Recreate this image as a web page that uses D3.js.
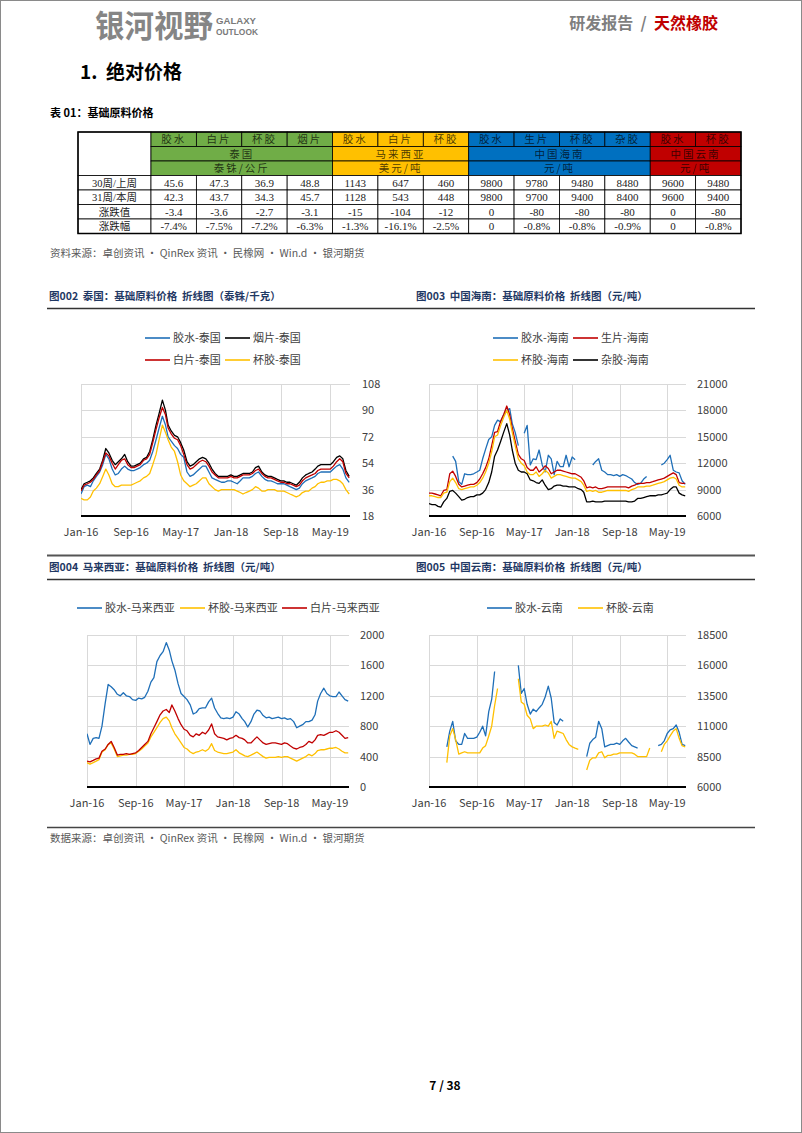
<!DOCTYPE html>
<html><head><meta charset="utf-8">
<script src="https://cdn.jsdelivr.net/npm/d3@7"></script>
<style>body{margin:0;background:#fff}svg{display:block}</style>
</head><body>
<script>
// ---------- DATA ----------
// Table
const tblHeads = ["胶水","白片","杯胶","烟片","胶水","白片","杯胶","胶水","生片","杯胶","杂胶","胶水","杯胶"];
const tblGroups = [{name:"泰国",unit:"泰铢/公斤",span:4,color:"#70AD47"},{name:"马来西亚",unit:"美元/吨",span:3,color:"#FFC000"},{name:"中国海南",unit:"元/吨",span:4,color:"#0070C0"},{name:"中国云南",unit:"元/吨",span:2,color:"#C00000"}];
const tblRowNames = ["30周/上周","31周/本周","涨跌值","涨跌幅"];
const rowLastWeek = ["45.6","47.3","36.9","48.8","1143","647","460","9800","9780","9480","8480","9600","9480"];
const rowThisWeek = ["42.3","43.7","34.3","45.7","1128","543","448","9800","9700","9400","8400","9600","9400"];
const rowChange   = ["-3.4","-3.6","-2.7","-3.1","-15","-104","-12","0","-80","-80","-80","0","-80"];
const rowChangePct= ["-7.4%","-7.5%","-7.2%","-6.3%","-1.3%","-16.1%","-2.5%","0","-0.8%","-0.8%","-0.9%","0","-0.8%"];

// Time axis (half-monthly observations from Jan-16)
const tickLabels = ["2016-01-01","2016-09-01","2017-05-01","2018-01-01","2018-09-01","2019-05-01"];

// Chart 002 Thailand (THB/kg)
const thBlue = [33,38,39,38,42,45,48,53,60,57, 50,46,47,50,52,50,49,49,50,51, 53,54,56,62,70,78,86,80,72,69, 66,64,60,58,48,45,46,48,50,52, 52,48,44,43,42,41,41,42,42,41, 40,42,44,44,44,45,47,48,45,43, 42,42,41,40,40,40,39,38,37,36, 37,40,42,43,44,45,47,48,48,48, 48,50,52,53,50,44,41];
const thBlack = [36,40,41,42,44,47,50,56,64,61, 56,53,55,57,60,55,52,52,53,54, 57,58,62,70,80,88,97,90,80,76, 73,72,68,63,55,52,53,55,57,58, 57,54,50,47,45,45,45,45,46,45, 45,46,47,47,47,48,51,52,48,46, 45,45,44,43,42,42,41,41,40,39, 41,44,46,47,48,50,52,53,53,53, 53,55,58,59,57,49,45];
const thRed = [35,39,40,41,43,46,49,55,61,59, 54,50,53,56,57,53,51,51,52,53, 56,57,60,68,77,85,92,87,78,74, 71,70,66,60,53,50,51,53,55,56, 55,52,48,46,44,44,44,44,45,44, 44,45,46,46,46,47,49,50,47,45, 44,44,43,42,41,41,40,40,39,38, 39,42,44,45,46,47,49,50,50,50, 50,52,55,57,55,47,44];
const thYellow = [30,29,29,31,35,37,40,45,50,46, 40,38,38,39,39,39,39,40,41,42, 44,45,47,53,60,70,80,75,70,65, 62,55,46,42,40,38,39,40,42,44, 44,40,38,36,35,36,36,36,36,36, 35,34,33,34,35,36,38,37,35,35, 36,36,36,35,35,35,34,33,32,31, 32,34,35,35,37,38,40,41,41,42, 42,43,43,42,40,36,33];

// Chart 003 Hainan (CNY/t)
const hnBlue = [null,null,null,null,null,null,null,null,12800,12200, 9900,9600,10800,10700,10700,10800,11000,11200,12500,13600, 14700,15000,16300,16900,16700,17500,18000,18200,16500,15500, 14000,null,15400,16300,11800,12500,12400,13500,11800,11000, 12900,12500,10700,12200,11600,11600,12900,11600,12700,12400, null,null,null,null,null,11800,12200,12500,11200,11000, 10700,10700,10600,10700,10500,10700,10600,10400,10200,9800, 9600,9700,10200,10500,null,null,null,null,11800,12000, 12400,12900,11200,11000,10900,10000,9600];
const hnRed = [8600,8600,8500,8400,8300,8900,9000,10800,11100,10500, 9600,9300,9400,9500,9600,9600,9800,10200,10800,11500, 12500,14000,15500,15600,16800,17500,18500,17500,16000,14500, 13000,12500,12300,11500,11200,11200,11600,11000,11300,11700, 11400,10800,11000,11200,11200,11100,11000,10900,10800,10800, 10600,10400,10000,9200,9300,9200,9300,9100,9100,9200, 9300,9300,9300,9300,9300,9300,9300,9200,9400,9500, 9700,9700,9700,9800,9800,9900,10000,10100,10200,10300, 10500,10700,10900,10700,9800,9700,9700];
const hnYellow = [8300,8300,8200,8100,8100,8600,8700,9900,10300,9800, 9100,9000,9100,9200,9300,9300,9500,9800,10300,11000, 12000,13300,15000,15200,16300,17200,18000,17000,15500,14000, 12500,12000,11700,11000,10700,10700,11000,10500,10800,11200, 10900,10300,10500,10700,10700,10600,10500,10400,10300,10300, 10100,9900,9500,8800,8900,8800,8900,8700,8700,8800, 8900,8900,8900,8900,8900,8900,8900,8800,9000,9100, 9300,9300,9300,9400,9400,9500,9600,9700,9800,9900, 10100,10300,10400,10200,9500,9300,9300];
const hnBlack = [7400,7300,7300,7100,7000,7600,8000,8800,8900,8600, 8200,7800,7900,8100,8200,8200,8400,8400,8600,9000, 9800,11000,12800,13500,14500,15500,16500,15200,13500,12000, 11200,11000,11000,10800,10100,10000,9800,9700,10100,9500, 9000,9100,9400,9500,9500,9400,9400,9300,9300,9300, 9100,9000,8700,7600,7600,7700,7600,7600,7600,7700, 7700,7700,7700,7700,7700,7700,7700,7600,7600,7700, 8000,8000,8100,8200,8300,8300,8300,8400,8400,8500, 8600,9000,9300,9300,8600,8400,8300];

// Chart 004 Malaysia
const myBlue = [700,560,640,650,640,800,1100,1350,1320,1280, 1220,1200,1240,1200,1190,1150,1140,1170,1160,1180, 1260,1380,1440,1650,1730,1780,1900,1800,1660,1540, 1360,1230,1190,1150,1080,960,980,1030,1040,1040, 1120,1170,1040,970,910,900,910,900,920,990, 960,900,860,790,860,960,1010,1000,940,910, 920,900,910,920,900,910,890,900,860,780, 800,820,860,860,880,950,1130,1230,1300,1230, 1200,1190,1190,1250,1200,1150,1130];
const myYellow = [320,300,320,340,360,460,490,560,580,500, 400,410,420,420,430,430,440,470,500,540, 580,660,720,780,850,900,920,870,780,700, 640,580,520,500,460,440,460,470,490,470, 500,570,480,460,450,440,440,450,460,490, 450,430,410,400,420,440,460,430,400,380, 390,390,390,400,390,400,400,380,360,340, 360,380,400,430,410,440,480,490,490,500, 510,510,520,500,470,450,450];
const myRed = [340,330,350,370,380,470,500,560,600,520, 420,430,430,440,430,440,450,480,520,560, 600,700,780,860,950,1000,1020,980,1080,1000, 900,820,760,740,680,660,700,680,720,700, 750,830,700,660,650,640,620,640,650,680, 650,640,620,580,580,620,660,620,580,560, 570,580,580,570,560,580,570,540,510,500, 520,530,560,600,580,620,680,690,680,700, 720,720,740,720,680,640,650];

// Chart 005 Yunnan
const ynBlue = [null,null,null,null,null,null,9300,10600,11400,9800, 9500,9500,10400,10000,10000,10000,10100,10500,11000,10200, 12200,13200,15500,null,null,null,null,null,null,null, 16000,13700,14100,12800,12000,12400,12200,12500,12800,13400, 14300,13300,11300,11100,11600,11400,null,null,null,null, null,null,null,8500,9600,9900,10100,11400,10800,9300, 9400,9500,9500,9600,9500,9800,10000,9700,9400,9300, 9200,null,null,null,null,null,null,9400,9500,9800, 10400,10700,10800,11100,10500,9500,9400];
const ynYellow = [null,null,null,null,null,null,8000,10200,10800,9900, 8700,8800,8900,8800,8800,8800,8800,8800,9200,9400, 10200,11000,12700,14100,null,null,null,null,null,null, 14900,13000,12800,11900,11600,10800,11000,11000,11000,11100, 11000,11400,10000,10600,10500,10400,9900,9500,9300,9200, 9100,null,null,7400,8200,8400,8400,8800,8900,8400, 8600,8600,8700,8700,8800,8800,8800,8800,8800,8700, 8500,8500,8500,8500,9200,null,null,null,8900,9500, 9800,10200,10600,10800,10000,9400,9300];

// ---------- DRAWING ----------
const FONT = "'Noto Sans CJK SC','Noto Sans',sans-serif";
const SERIF = "'Liberation Serif','Noto Sans CJK SC',serif";
const LAT = "'Liberation Sans',Arial,sans-serif";
const C = {blue:"#1f6fb8", red:"#c00000", yellow:"#ffc000", black:"#000000"};
const svg = d3.select("body").append("svg").attr("width",802).attr("height",1133)
  .style("font-family",FONT);

svg.append("rect").attr("x",0.5).attr("y",0.5).attr("width",801).attr("height",1132)
  .attr("fill","#fff").attr("stroke","#8a8a8a");

// header
svg.append("text").attr("x",95).attr("y",37).attr("font-size",31).attr("font-weight",700)
  .attr("fill","#858585").attr("textLength",118).attr("lengthAdjust","spacingAndGlyphs").text("银河视野");
svg.append("text").attr("x",216).attr("y",23.5).attr("font-size",9.5).attr("font-weight",700).attr("font-family",LAT)
  .attr("fill","#7a7a7a").attr("textLength",40).attr("lengthAdjust","spacingAndGlyphs").text("GALAXY");
svg.append("text").attr("x",216).attr("y",35).attr("font-size",9.5).attr("font-weight",700).attr("font-family",LAT)
  .attr("fill","#7a7a7a").attr("textLength",42).attr("lengthAdjust","spacingAndGlyphs").text("OUTLOOK");
const hr = svg.append("text").attr("x",718).attr("y",29).attr("text-anchor","end")
  .attr("font-size",16).attr("font-weight",700);
hr.append("tspan").attr("fill","#7f7f7f").text("研发报告\u00a0\u00a0/\u00a0\u00a0");
hr.append("tspan").attr("fill","#c00000").text("天然橡胶");

svg.append("text").attr("x",80).attr("y",79).attr("font-size",19).attr("font-weight",700)
  .attr("fill","#000").text("1.\u00a0\u00a0绝对价格");
svg.append("text").attr("x",50).attr("y",117).attr("font-size",11).attr("font-weight",700)
  .attr("fill","#000").text("表 01：基础原料价格");

// ---------- table ----------
(function(){
  const x0 = 78, firstW = 73, colW = 590/13, y0 = 132, rh = 14.5;
  const g = svg.append("g");
  const colX = i => x0 + firstW + i*colW;
  g.append("rect").attr("x",x0).attr("y",y0).attr("width",firstW).attr("height",rh*3)
    .attr("fill","#fff").attr("stroke","#000").attr("stroke-width",0.8);
  let ci = 0;
  tblGroups.forEach(gr => {
    for (let k=0;k<gr.span;k++){
      g.append("rect").attr("x",colX(ci+k)).attr("y",y0).attr("width",colW).attr("height",rh)
        .attr("fill",gr.color).attr("stroke","#000").attr("stroke-width",0.8);
      g.append("text").attr("x",colX(ci+k)+colW/2).attr("y",y0+rh/2+3.8).attr("text-anchor","middle")
        .attr("font-size",10.5).attr("fill","#000").attr("fill-opacity",0.72).attr("letter-spacing",2)
        .text(tblHeads[ci+k]);
    }
    [gr.name, gr.unit].forEach((t,j)=>{
      g.append("rect").attr("x",colX(ci)).attr("y",y0+rh*(j+1)).attr("width",colW*gr.span).attr("height",rh)
        .attr("fill",gr.color).attr("stroke","#000").attr("stroke-width",0.8);
      g.append("text").attr("x",colX(ci)+colW*gr.span/2).attr("y",y0+rh*(j+1)+rh/2+3.8).attr("text-anchor","middle")
        .attr("font-size",10.5).attr("fill","#000").attr("fill-opacity",0.72).attr("letter-spacing",2).text(t);
    });
    ci += gr.span;
  });
  const rows = [rowLastWeek,rowThisWeek,rowChange,rowChangePct];
  rows.forEach((r,ri)=>{
    const y = y0 + rh*(3+ri);
    g.append("rect").attr("x",x0).attr("y",y).attr("width",firstW).attr("height",rh)
      .attr("fill","#fff").attr("stroke","#000").attr("stroke-width",0.8);
    g.append("text").attr("x",x0+firstW/2).attr("y",y+rh/2+3.8).attr("text-anchor","middle")
      .attr("font-size",10.5).attr("fill","#222").attr("font-family",SERIF).text(tblRowNames[ri]);
    r.forEach((v,i)=>{
      g.append("rect").attr("x",colX(i)).attr("y",y).attr("width",colW).attr("height",rh)
        .attr("fill","#fff").attr("stroke","#000").attr("stroke-width",0.8);
      g.append("text").attr("x",colX(i)+colW/2).attr("y",y+rh/2+3.8).attr("text-anchor","middle")
        .attr("font-size",11).attr("fill","#222").attr("font-family",SERIF).text(v);
    });
  });
  g.append("rect").attr("x",x0).attr("y",y0).attr("width",firstW+590).attr("height",rh*7)
    .attr("fill","none").attr("stroke","#000").attr("stroke-width",1.5);
})();

svg.append("text").attr("x",50).attr("y",257).attr("font-size",10.5).attr("fill","#595959")
  .text("资料来源：卓创资讯 · QinRex 资讯 · 民橡网 · Win.d · 银河期货");

// section rules & titles
function hline(y, w, col){ svg.append("line").attr("x1",47).attr("x2",755).attr("y1",y).attr("y2",y)
  .attr("stroke",col).attr("stroke-width",w); }
hline(308.5,1.5,"#333"); hline(555.5,2,"#555"); hline(579.5,1.5,"#333"); hline(827.5,1.5,"#444");
const titles = [[49,300,"图002\u00a0 泰国：基础原料价格\u00a0 折线图（泰铢/千克）"],[416,300,"图003\u00a0 中国海南：基础原料价格\u00a0 折线图（元/吨）"],
  [49,571,"图004\u00a0 马来西亚：基础原料价格\u00a0 折线图（元/吨）"],[416,571,"图005\u00a0 中国云南：基础原料价格\u00a0 折线图（元/吨）"]];
titles.forEach(t=>svg.append("text").attr("x",t[0]).attr("y",t[1]).attr("font-size",10.5)
  .attr("font-weight",700).attr("fill","#1f3864").text(t[2]));

// ---------- charts ----------
const parse = d3.timeParse("%Y-%m-%d");
const dates = d3.range(87).map(i => new Date(2016 + Math.floor(i/24), Math.floor(i/2)%12, i%2 ? 16 : 1));
const xDomain = [parse("2016-01-01"), parse("2019-08-05")];
const ticksX = tickLabels.map(parse);
const fmt = d3.timeFormat("%b-%y");
let clipId = 0;

function drawChart(cfg){
  const g = svg.append("g");
  const x = d3.scaleTime().domain(xDomain).range([cfg.x0,cfg.x1]);
  const y = d3.scaleLinear().domain(cfg.yDomain).range([cfg.y1,cfg.y0]);
  const yt = d3.range(cfg.yDomain[0], cfg.yDomain[1]+cfg.step/2, cfg.step);
  g.append("g").selectAll("line").data(yt.slice(1)).join("line")
    .attr("x1",cfg.x0).attr("x2",cfg.x1).attr("y1",d=>Math.round(y(d))+0.5).attr("y2",d=>Math.round(y(d))+0.5)
    .attr("stroke","#d9d9d9").attr("stroke-width",1);
  g.append("g").selectAll("line").data(ticksX).join("line")
    .attr("x1",d=>Math.round(x(d))+0.5).attr("x2",d=>Math.round(x(d))+0.5).attr("y1",cfg.y0).attr("y2",cfg.y1)
    .attr("stroke","#d9d9d9").attr("stroke-width",1);
  g.append("g").selectAll("text").data(yt).join("text")
    .attr("x",cfg.lx).attr("y",d=>y(d)+4).attr("font-size",11).attr("fill","#404040").text(d=>d);
  g.append("g").selectAll("text").data(ticksX).join("text")
    .attr("x",d=>x(d)).attr("y",cfg.y1+20).attr("text-anchor","middle").attr("font-size",11)
    .attr("fill","#404040").text(d=>fmt(d));
  const cid = "clip"+(clipId++);
  svg.append("clipPath").attr("id",cid).append("rect").attr("x",cfg.x0).attr("y",cfg.y0-5)
    .attr("width",cfg.x1-cfg.x0).attr("height",cfg.y1-cfg.y0+5);
  const line = d3.line().defined(d=>d[1]!=null).x(d=>x(d[0])).y(d=>y(d[1]));
  cfg.series.forEach(s=>{
    g.append("path").attr("clip-path",`url(#${cid})`).attr("d",line(dates.map((d,i)=>[d,s.values[i]])))
      .attr("fill","none").attr("stroke",s.color).attr("stroke-width",1.3).attr("stroke-linejoin","round");
  });
  g.append("line").attr("x1",cfg.x0).attr("x2",cfg.x1).attr("y1",cfg.y1).attr("y2",cfg.y1)
    .attr("stroke","#000").attr("stroke-width",2);
  cfg.series.forEach(s=>{
    g.append("line").attr("x1",s.lx).attr("x2",s.lx+25).attr("y1",s.ly).attr("y2",s.ly)
      .attr("stroke",s.color).attr("stroke-width",1.6);
    g.append("text").attr("x",s.lx+28).attr("y",s.ly+4).attr("font-size",11).attr("fill","#404040").text(s.name);
  });
}

drawChart({x0:81,x1:350,y0:384,y1:516,yDomain:[18,108],step:18,lx:362,series:[
  {name:"胶水-泰国",values:thBlue,color:C.blue,lx:145,ly:338},
  {name:"烟片-泰国",values:thBlack,color:C.black,lx:225,ly:338},
  {name:"白片-泰国",values:thRed,color:C.red,lx:145,ly:360},
  {name:"杯胶-泰国",values:thYellow,color:C.yellow,lx:225,ly:360}]});
drawChart({x0:429,x1:686,y0:384,y1:516,yDomain:[6000,21000],step:3000,lx:697,series:[
  {name:"胶水-海南",values:hnBlue,color:C.blue,lx:493,ly:338},
  {name:"生片-海南",values:hnRed,color:C.red,lx:573,ly:338},
  {name:"杯胶-海南",values:hnYellow,color:C.yellow,lx:493,ly:360},
  {name:"杂胶-海南",values:hnBlack,color:C.black,lx:573,ly:360}]});
drawChart({x0:87,x1:349,y0:635,y1:787,yDomain:[0,2000],step:400,lx:360,series:[
  {name:"胶水-马来西亚",values:myBlue,color:C.blue,lx:77,ly:608},
  {name:"杯胶-马来西亚",values:myYellow,color:C.yellow,lx:180,ly:608},
  {name:"白片-马来西亚",values:myRed,color:C.red,lx:282,ly:608}]});
drawChart({x0:429,x1:686,y0:635,y1:787,yDomain:[6000,18500],step:2500,lx:697,series:[
  {name:"胶水-云南",values:ynBlue,color:C.blue,lx:487,ly:608},
  {name:"杯胶-云南",values:ynYellow,color:C.yellow,lx:578,ly:608}]});

svg.append("text").attr("x",50).attr("y",842).attr("font-size",10.5).attr("fill","#595959")
  .text("数据来源：卓创资讯 · QinRex 资讯 · 民橡网 · Win.d · 银河期货");
svg.append("text").attr("x",445).attr("y",1090).attr("text-anchor","middle").attr("font-size",12)
  .attr("font-weight",700).attr("fill","#000").text("7 / 38");
</script>
</body></html>
